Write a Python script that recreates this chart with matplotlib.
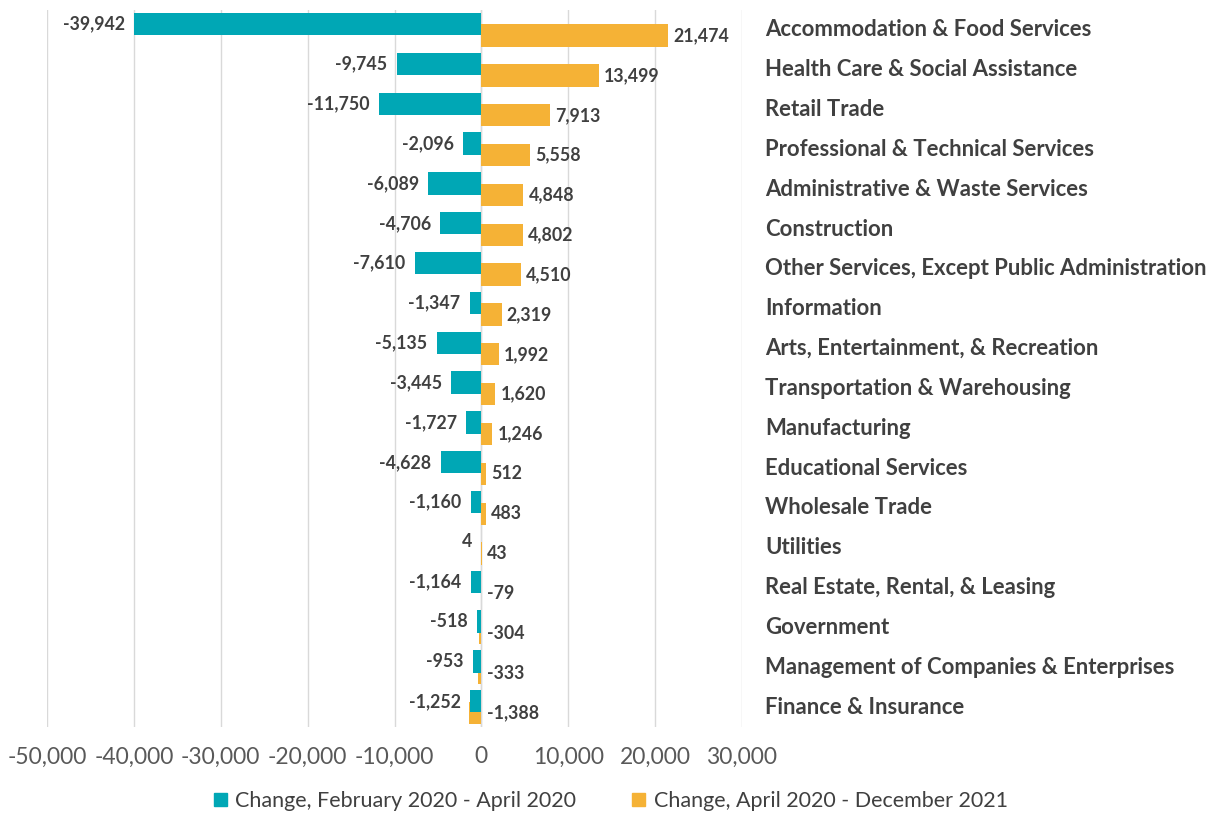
import matplotlib.pyplot as plt
from matplotlib.patches import Patch
import numpy as np

# dane
categories = ["Accommodation & Food Services", "Health Care & Social Assistance", "Retail Trade",
              "Professional & Technical Services", "Administrative & Waste Services", "Construction",
              "Other Services, Except Public Administration", "Information",
              "Arts, Entertainment, & Recreation", "Transportation & Warehousing", "Manufacturing",
              "Educational Services", "Wholesale Trade", "Utilities", "Real Estate, Rental, & Leasing",
              "Government", "Management of Companies & Enterprises", "Finance & Insurance"]
change_feb_apr = [-39942, -9745, -11750, -2096, -6089, -4706, -7610, -1347, -5135, -3445,
                  -1727, -4628, -1160, 4, -1164, -518, -953, -1252]
change_apr_dec = [21474, 13499, 7913, 5558, 4848, 4802, 4510, 2319, 1992, 1620,
                  1246, 512, 483, 43, -79, -304, -333, -1388]
series_names = ["Change, February 2020 - April 2020", "Change, April 2020 - December 2021"]
x_ticks = [-50000, -40000, -30000, -20000, -10000, 0, 10000, 20000, 30000]

plt.rcParams['font.family'] = ['Lato', 'DejaVu Sans']

teal = '#00a7b5'
orange = '#f5b236'
text_col = '#404040'

fig = plt.figure(figsize=(12.12, 8.15), dpi=100)
ax = fig.add_axes([0.0388, 0.108, 0.5734, 0.8798])

y = np.arange(len(categories))
h = 0.56
off = 0.145

# pomarańczowe pod spodem, turkusowe na wierzchu
ax.barh(y + off, change_apr_dec, height=h, color=orange, zorder=2)
ax.barh(y - off, change_feb_apr, height=h, color=teal, zorder=3)

ax.set_xlim(-50000, 30000)
ax.set_ylim(len(categories) - 0.5, -0.5)
ax.set_xticks(x_ticks)
ax.set_xticklabels([f"{t:,}" for t in x_ticks], fontsize=16.5, color='#595959')
ax.set_yticks([])
ax.tick_params(axis='x', length=0, pad=14)
ax.grid(axis='x', color='#d9d9d9', linewidth=1, zorder=0)
ax.axvline(0, color='#d9d9d9', linewidth=1, zorder=1)
for s in ax.spines.values():
    s.set_visible(False)

# etykiety wartości
for i in range(len(categories)):
    v1 = change_feb_apr[i]
    ax.text(min(v1, 0) - 1100, y[i] - off, f"{v1:,}", ha='right', va='center',
            fontsize=12.8, fontweight='bold', color=text_col)
    v2 = change_apr_dec[i]
    ax.text(max(v2, 0) + 600, y[i] + off, f"{v2:,}", ha='left', va='center',
            fontsize=12.8, fontweight='bold', color=text_col)
    # nazwy kategorii po prawej
    ax.text(32650, y[i], categories[i], ha='left', va='center',
            fontsize=15.9, fontweight='bold', color=text_col, clip_on=False)

handles = [Patch(color=teal), Patch(color=orange)]
fig.legend(handles, series_names, loc='center', bbox_to_anchor=(0.504, 0.017), ncol=2,
           frameon=False, fontsize=15.5, labelcolor='#404040', handlelength=0.6,
           handleheight=0.6, handletextpad=0.4, columnspacing=2.6)

fig.savefig('out.png', dpi=100)
